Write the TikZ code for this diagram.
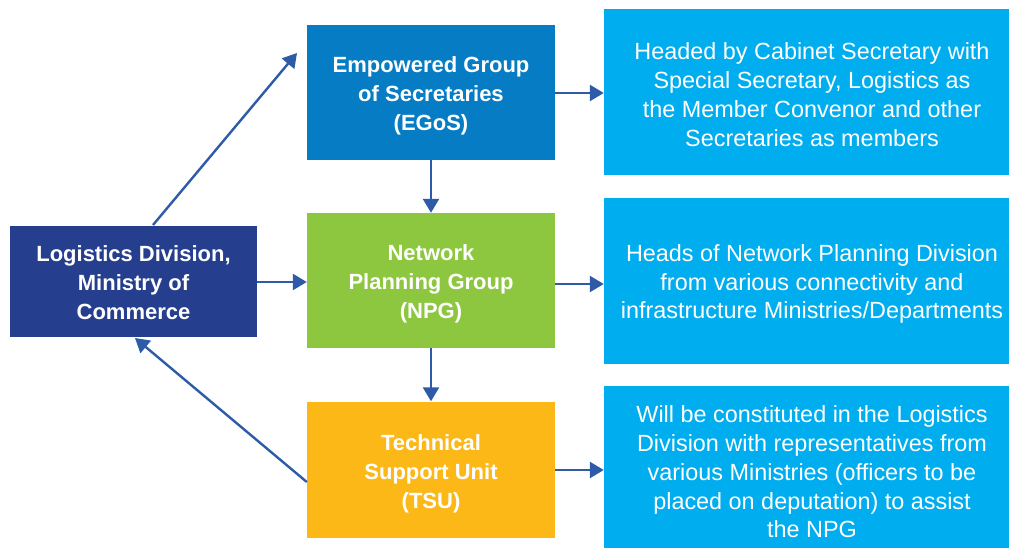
\documentclass[tikz,border=0pt]{standalone}
\usepackage{fontspec}
\setmainfont{Liberation Sans}
\usetikzlibrary{arrows.meta}
\definecolor{navy}{HTML}{253F8E}
\definecolor{egosblue}{HTML}{067CC4}
\definecolor{npggreen}{HTML}{8DC63F}
\definecolor{tsuamber}{HTML}{FBB817}
\definecolor{infocyan}{HTML}{00AEEF}
\definecolor{linkblue}{HTML}{2E5BA8}
\begin{document}
\begin{tikzpicture}[x={(1pt,0)}, y={(0,-1pt)},
  unitbox/.style={rectangle, inner sep=0pt, minimum width=248pt, minimum height=135pt},
  unittext/.style={text=white, align=center, font=\fontsize{22}{29}\selectfont\bfseries},
  infobox/.style={rectangle, fill=infocyan, inner sep=0pt, minimum width=416pt, minimum height=166pt},
  infotext/.style={text=white, align=center, font=\fontsize{23.4}{28.8}\selectfont},
  link/.style={draw=linkblue, line width=2.4pt, -{Triangle[length=14pt, width=16pt]}}]
\useasboundingbox (0,0) rectangle (1009,548);
\clip (0,0) rectangle (1009,548);

% organisational units
\node[unitbox, fill=navy, minimum width=247pt, minimum height=111pt] (ld) at (133.5,281.5) {};
\node[unittext] at (133.5,282.5) {Logistics Division,\\Ministry of\\Commerce};
\node[unitbox, fill=egosblue] (egos) at (431,92.5) {};
\node[unittext] at (431,95.5) {Empowered Group\\of Secretaries\\(EGoS)};
\node[unitbox, fill=npggreen] (npg) at (431,280.5) {};
\node[unittext] at (431,283.5) {Network\\Planning Group\\(NPG)};
\node[unitbox, fill=tsuamber, minimum height=136pt] (tsu) at (431,469.5) {};
\node[unittext] at (431,473.5) {Technical\\Support Unit\\(TSU)};

% descriptions
\node[infobox] (d1) at (812,92.5) {};
\node[infotext] at (812,94.5) {Headed by Cabinet Secretary with\\Special Secretary, Logistics as\\the Member Convenor and other\\Secretaries as members};
\node[infobox] (d2) at (812,281) {};
\node[infotext] at (812,284) {Heads of Network Planning Division\\from various connectivity and\\infrastructure Ministries/Departments};
\node[infobox] (d3) at (812,469) {};
\node[infotext] at (812,472) {Will be constituted in the Logistics\\Division with representatives from\\various Ministries (officers to be\\placed on deputation) to assist\\the NPG};

% connectors
\coordinate (up) at (297,53);
\draw[link] (153,225) -- (up);
\draw[link] (ld.east |- 0,282) -- (npg.west |- 0,282);
\draw[link] (egos.south) -- (npg.north);
\draw[link] (npg.south) -- (tsu.north);
\draw[link] (tsu.west |- 0,482) -- (135,338);
\draw[link] (egos.east |- 0,93) -- (d1.west |- 0,93);
\draw[link] (npg.east |- 0,284) -- (d2.west |- 0,284);
\draw[link] (tsu.east |- 0,470) -- (d3.west |- 0,470);
\end{tikzpicture}
\end{document}
